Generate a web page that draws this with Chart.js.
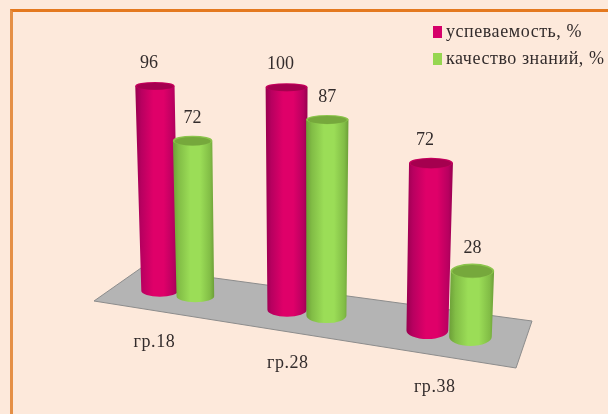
<!DOCTYPE html>
<html>
<head>
<meta charset="utf-8">
<script src="https://cdn.jsdelivr.net/npm/chart.js@4"></script>
<style>
  html, body { margin:0; padding:0; background:#fde9db; }
  #wrap { position:relative; width:608px; height:414px; overflow:hidden; }
  #frame { position:absolute; left:10px; top:9px; width:620px; height:420px; border:3px solid #e4791f; border-left-color:#e58f45; }
  canvas { position:absolute; left:0; top:0; filter:blur(0.35px); }
</style>
</head>
<body>
<div id="wrap">
  <div id="frame"></div>
  <canvas id="chart" width="608" height="414"></canvas>
</div>
<script>
const categories = ['гр.18', 'гр.28', 'гр.38'];
const uspevaemost = [96, 100, 72];
const kachestvo = [72, 87, 28];

const FONT = '18px "Liberation Serif", serif';
const TEXT_COLOR = '#332c2c';

// shading stops for the cylinders
const shades = [
  { edge:'#98004f', dark:'#b80060', body:'#df0069', top:'#a5004f', rim:'#c4005c' },
  { edge:'#6c9f38', dark:'#82bd46', body:'#9bdd57', top:'#76a83c', rim:'#8cc44c' }
];

// fake perspective: floor runs down to the right, things get bigger closer to us
function warpX(x) { return x - 0.4 + 0.000354 * (x - 178) * (x - 449); }
function floorY(x) { return 291 + 0.147 * (x - 159); }
function heightK(x) { return (2.15 + (x - 178) * 0.0007) / 2.26; }
function baseRadius(x) { return 18.5 + (x - 160) * 0.009; }

function drawCylinder(ctx, el, shade) {
  const bx = warpX(el.x);
  const by = floorY(bx);
  const h = (el.base - el.y) * heightK(bx);
  const ty = by - h;
  const tx = bx + (bx - 300) * h * 0.00017;
  const rb = baseRadius(bx);
  const rt = rb * (1 + h * 0.0003);
  const ryb = 5.5 + (by - 291) * 0.08;
  const ryt = 4 + (ty - 84) * 0.018;

  const grad = ctx.createLinearGradient(Math.min(tx - rt, bx - rb), 0, Math.max(tx + rt, bx + rb), 0);
  grad.addColorStop(0, shade.edge);
  grad.addColorStop(0.14, shade.dark);
  grad.addColorStop(0.42, shade.body);
  grad.addColorStop(0.66, shade.body);
  grad.addColorStop(0.9, shade.dark);
  grad.addColorStop(1, shade.edge);

  ctx.beginPath();
  ctx.moveTo(tx - rt, ty);
  ctx.lineTo(bx - rb, by);
  ctx.ellipse(bx, by, rb, ryb, 0, Math.PI, 0, true);
  ctx.lineTo(tx + rt, ty);
  ctx.closePath();
  ctx.fillStyle = grad;
  ctx.fill();

  ctx.beginPath();
  ctx.ellipse(tx, ty, rt, ryt, 0, 0, Math.PI * 2);
  ctx.fillStyle = shade.rim;
  ctx.fill();
  ctx.beginPath();
  ctx.ellipse(tx, ty + 0.5, rt * 0.92, ryt * 0.85, 0, 0, Math.PI * 2);
  ctx.fillStyle = shade.top;
  ctx.fill();

  return { x: tx, y: ty };
}

const cylinders = {
  id: 'cylinders',
  beforeDatasetsDraw(chart) {
    const ctx = chart.ctx;
    ctx.save();

    // floor
    ctx.beginPath();
    ctx.moveTo(94, 301);
    ctx.lineTo(141, 268);
    ctx.lineTo(532, 321);
    ctx.lineTo(516, 368);
    ctx.closePath();
    ctx.fillStyle = '#b4b4b4';
    ctx.fill();
    ctx.strokeStyle = '#8c8c8c';
    ctx.lineWidth = 1;
    ctx.stroke();

    const tops = [];
    categories.forEach((cat, i) => {
      chart.data.datasets.forEach((ds, d) => {
        const el = chart.getDatasetMeta(d).data[i];
        const top = drawCylinder(ctx, el, shades[d]);
        tops.push({ x: top.x + (d === 0 ? -6 : 0), y: top.y - 22.5, text: String(ds.data[i]) });
      });
    });

    // value labels + category labels
    ctx.font = FONT;
    ctx.fillStyle = TEXT_COLOR;
    ctx.textAlign = 'center';
    ctx.textBaseline = 'middle';
    tops.forEach(t => ctx.fillText(t.text, t.x, t.y));

    ctx.letterSpacing = '0.55px';
    const xs = chart.scales.x;
    categories.forEach((cat, i) => {
      const c = warpX(xs.getPixelForValue(i));
      const lx = c - 23 + (c - 178) * 0.033;
      ctx.fillText(cat, lx, 342 + 0.163 * (lx - 155));
    });

    // legend
    ctx.textAlign = 'left';
    chart.data.datasets.forEach((ds, d) => {
      const y = 32 + d * 27;
      ctx.fillStyle = ds.backgroundColor;
      ctx.fillRect(433, y - 6, 9, 12);
      ctx.fillStyle = TEXT_COLOR;
      ctx.fillText(ds.label, 446, y + 0.5);
    });

    ctx.restore();
    return false; // real bars replaced by the cylinders above
  }
};

new Chart(document.getElementById('chart').getContext('2d'), {
  type: 'bar',
  data: {
    labels: categories,
    datasets: [
      { label: 'успеваемость, %', data: uspevaemost, backgroundColor: '#d6006a' },
      { label: 'качество знаний, %', data: kachestvo, backgroundColor: '#96d650' }
    ]
  },
  options: {
    responsive: false,
    animation: false,
    layout: { padding: { left: 110, right: 91, top: 84, bottom: 104 } },
    categoryPercentage: 0.58,
    barPercentage: 1,
    scales: {
      x: { display: false },
      y: { display: false, min: 0, max: 100 }
    },
    plugins: { legend: { display: false }, tooltip: { enabled: false } }
  },
  plugins: [cylinders]
});
</script>
</body>
</html>
